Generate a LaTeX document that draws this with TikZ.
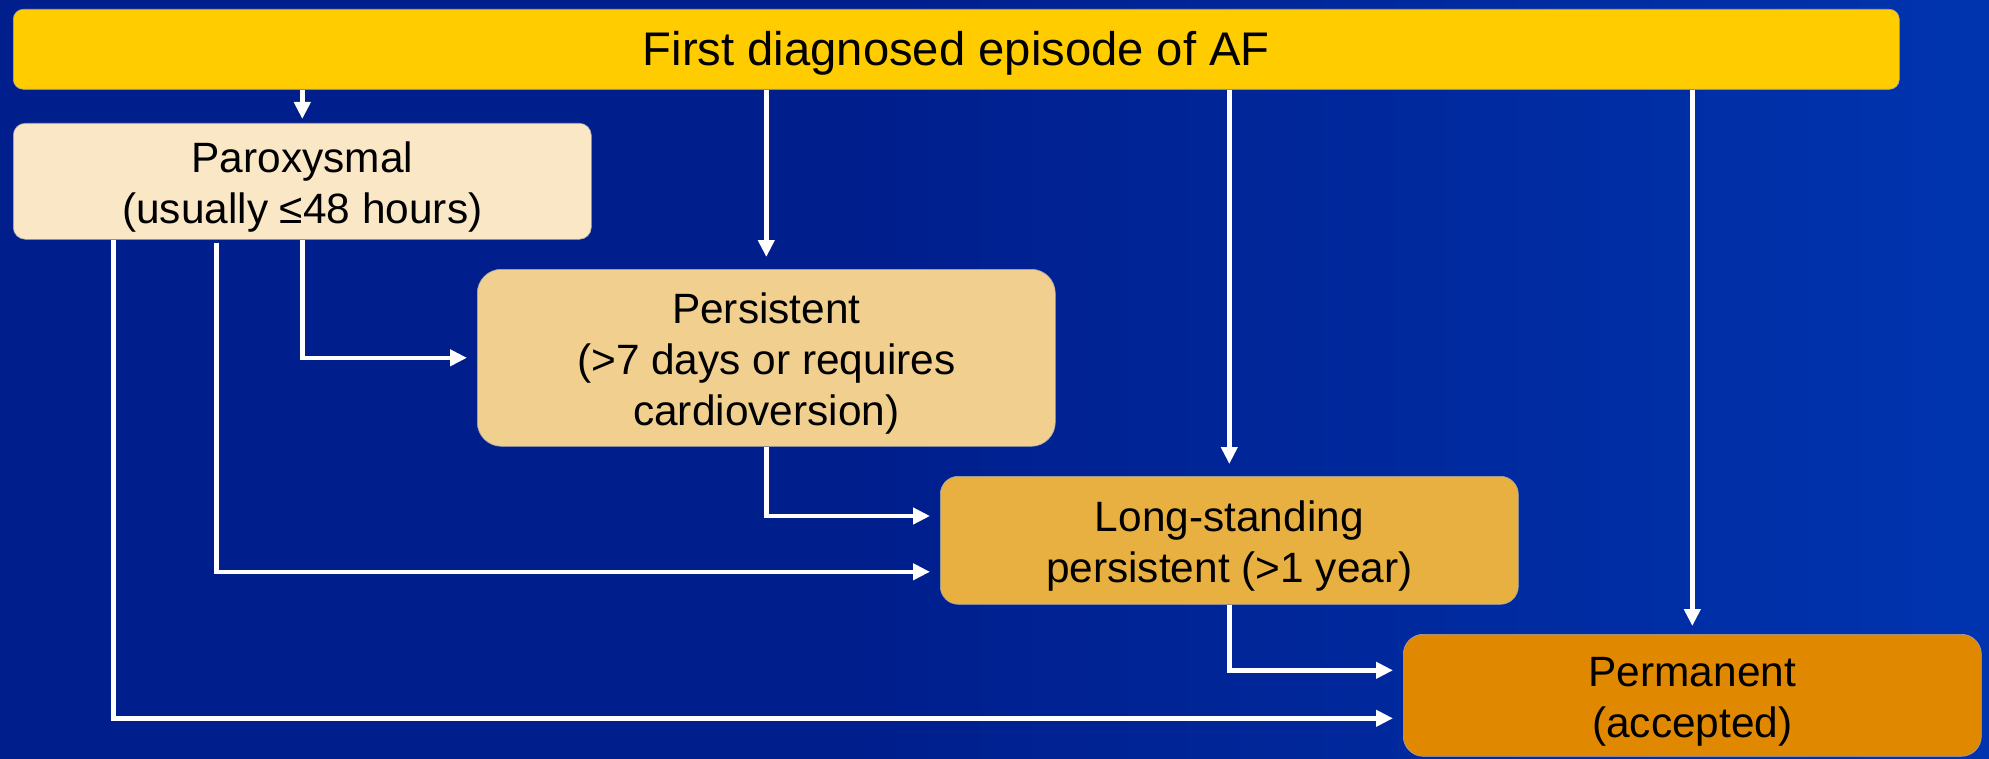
\documentclass[tikz,border=0pt]{standalone}
\usepackage{fontspec}
\setmainfont{Liberation Sans}
\usetikzlibrary{arrows.meta,calc}
\definecolor{bgA}{RGB}{0,30,140}
\definecolor{bgB}{RGB}{0,52,175}
\definecolor{cTop}{RGB}{255,204,0}
\definecolor{cPar}{RGB}{249,231,198}
\definecolor{cPers}{RGB}{241,207,142}
\definecolor{cLong}{RGB}{232,176,64}
\definecolor{cPerm}{RGB}{224,136,0}
\newcommand{\tstrut}{\rule{0pt}{21pt}}
\tikzset{
  box/.style={draw=black!35, line width=0.3pt, anchor=north west, inner sep=0pt, align=center,
    text=black, font=\fontsize{21.2}{25.4}\selectfont, minimum width=289pt},
  arr/.style={draw=white, line width=2.3pt, -{Triangle[length=8.5pt,width=8pt]}, shorten >=5pt},
}
\begin{document}
\begin{tikzpicture}[x=0.5pt,y=-0.5pt]
\useasboundingbox (0,0) rectangle (1989,759);
\fill[bgA] (0,0) rectangle (1989,759);
\shade[left color=bgA, right color=bgB] (850,0) rectangle (1989,759);
\node[box, fill=cTop, rounded corners=5pt, minimum width=943pt, minimum height=40pt,
  font=\fontsize{23.6}{28}\selectfont] (top) at (13,9) {\tstrut First diagnosed episode of AF};
\node[box, fill=cPar, rounded corners=6pt, minimum height=58pt] (par) at (13,123)
  {\tstrut Paroxysmal\\(usually ≤48 hours)};
\node[box, fill=cPers, rounded corners=12pt, minimum height=88.5pt] (pers) at (477,269)
  {\tstrut Persistent\\(>7 days or requires\\cardioversion)};
\node[box, fill=cLong, rounded corners=9pt, minimum height=64pt] (long) at (940,476)
  {\tstrut Long-standing\\persistent (>1 year)};
\node[box, fill=cPerm, rounded corners=10pt, minimum height=61pt] (perm) at (1403,634)
  {\tstrut Permanent\\(accepted)};
% from top box
\draw[arr, shorten >=2pt] (top.south -| par.north) -- (par.north);
\draw[arr, shorten >=6pt] (top.south -| pers.north) -- (pers.north);
\draw[arr, shorten >=6pt] (top.south -| long.north) -- (long.north);
\draw[arr, shorten >=4pt] (top.south -| perm.north) -- (perm.north);
% from paroxysmal
\draw[arr] (par.south) |- (pers.west);
\draw[arr, shorten <=1.5pt] ([xshift=-43pt]par.south) |- ([yshift=-15.75pt]long.west);
\draw[arr] ([xshift=-94.5pt]par.south) |- ([yshift=-11.5pt]perm.west);
% from persistent
\draw[arr] (pers.south) |- ([yshift=12.15pt]long.west);
% from long-standing
\draw[arr] (long.south) |- ([yshift=12.5pt]perm.west);
\end{tikzpicture}
\end{document}
